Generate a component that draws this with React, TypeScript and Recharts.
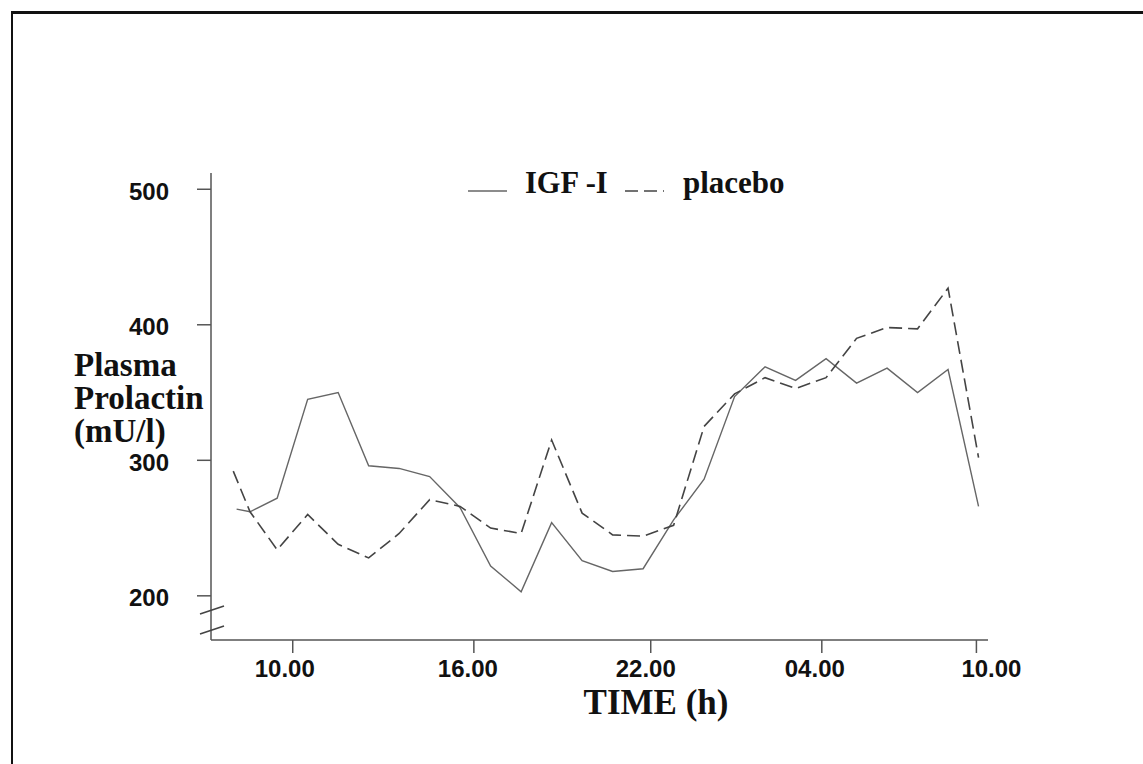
import { LineChart, Line, XAxis, YAxis } from 'recharts';

// x is clock time in hours (values past 24 run on into the next morning)
const timeTicks = [9.51, 15.45, 21.25, 26.86, 31.93];
const timeLabels = ['10.00', '16.00', '22.00', '04.00', '10.00'];
const prolactinTicks = [200, 300, 400, 500];

const seriesNames = ['IGF -I', 'placebo'];

const igfHours = [7.67, 8.11, 9, 10, 11, 12, 13, 14, 15, 16, 17, 18, 19, 20, 21, 22, 23, 24, 25, 26, 27, 28, 29, 30, 31, 32];
const igfValues = [264, 262, 272, 345, 350, 296, 294, 288, 265, 222, 203, 254, 226, 218, 220, 256, 286, 347, 369, 359, 375, 357, 368, 350, 367, 266];

const placeboHours = [7.56, 8.11, 9, 10, 11, 12, 13, 14, 15, 16, 17, 18, 19, 20, 21, 22, 23, 24, 25, 26, 27, 28, 29, 30, 31, 32];
const placeboValues = [292, 262, 234, 260, 238, 228, 246, 271, 266, 250, 246, 315, 261, 245, 244, 252, 325, 349, 361, 353, 361, 390, 398, 397, 427, 302];

const igfData = igfHours.map((h, i) => ({ h, v: igfValues[i] }));
const placeboData = placeboHours.map((h, i) => ({ h, v: placeboValues[i] }));

const serif = '"Liberation Serif", "Times New Roman", serif';
const sans = '"Liberation Sans", Arial, sans-serif';
const DASH = '13 6';

// the printed labels sit a little off their tick marks
const labelNudge = [-8, -6, -5, -7, 15];

function TimeTick(props: any) {
  const { x, y, payload, index } = props;
  return (
    <text x={x + (labelNudge[index] ?? 0)} y={y} dy="0.71em" textAnchor="middle"
      fill="#111" fontSize={24} fontWeight={700} fontFamily={sans}>
      {timeLabels[index] ?? payload.value}
    </text>
  );
}

function YLabel() {
  return (
    <text fontFamily={serif} fontWeight={700} fontSize={33} fill="#111">
      <tspan x={74} y={376}>Plasma</tspan>
      <tspan x={74} y={409}>Prolactin</tspan>
      <tspan x={74} y={442}>(mU/l)</tspan>
    </text>
  );
}

function XLabel() {
  return (
    <text x={656} y={714} textAnchor="middle" fontFamily={serif} fontWeight={700} fontSize={35} fill="#111">
      TIME (h)
    </text>
  );
}

export default function App() {
  return (
    <div style={{ position: 'relative', width: 1143, height: 764, background: '#fff', overflow: 'hidden' }}>
      <style>{'body{margin:0;background:#fff}'}</style>
      <div
        style={{
          position: 'absolute', left: 11, top: 11, width: 1200, height: 800,
          borderTop: '3px solid #111', borderLeft: '2px solid #111',
        }}
      />
      <LineChart width={1143} height={764} margin={{ top: 173, right: 155, bottom: 84, left: 111 }}>
        <XAxis
          type="number"
          dataKey="h"
          domain={[6.83, 32.31]}
          allowDataOverflow
          ticks={timeTicks}
          interval={0}
          height={40}
          tickSize={13}
          tickMargin={7}
          stroke="#555"
          strokeWidth={1.5}
          tick={<TimeTick />}
          label={<XLabel />}
        />
        <YAxis
          type="number"
          dataKey="v"
          domain={[167.4, 512]}
          allowDataOverflow
          ticks={prolactinTicks}
          interval={0}
          width={100}
          tickSize={14}
          tickMargin={28}
          stroke="#555"
          strokeWidth={1.5}
          tick={{ fill: '#111', fontSize: 24, fontWeight: 700, fontFamily: sans, dy: 2 }}
          label={<YLabel />}
        />
        <Line data={igfData} dataKey="v" name={seriesNames[0]} type="linear" stroke="#666" strokeWidth={1.4} dot={false} isAnimationActive={false} />
        <Line data={placeboData} dataKey="v" name={seriesNames[1]} type="linear" stroke="#444" strokeWidth={1.6} strokeDasharray={DASH} dot={false} isAnimationActive={false} />
      </LineChart>
      <svg width={1143} height={764} style={{ position: 'absolute', left: 0, top: 0, pointerEvents: 'none' }}>
        {/* legend */}
        <line x1={468} y1={191} x2={507} y2={191} stroke="#666" strokeWidth={1.4} />
        <text x={525} y={193} fontFamily={serif} fontWeight={700} fontSize={30.5} fill="#111">{seriesNames[0]}</text>
        <line x1={625} y1={191} x2={664} y2={191} stroke="#444" strokeWidth={1.5} strokeDasharray={DASH} />
        <text x={683} y={193} fontFamily={serif} fontWeight={700} fontSize={31} fill="#111">{seriesNames[1]}</text>
        {/* axis break */}
        <line x1={200} y1={614} x2={224} y2={606} stroke="#444" strokeWidth={1.5} />
        <line x1={200} y1={634} x2={224} y2={626} stroke="#444" strokeWidth={1.5} />
      </svg>
    </div>
  );
}
